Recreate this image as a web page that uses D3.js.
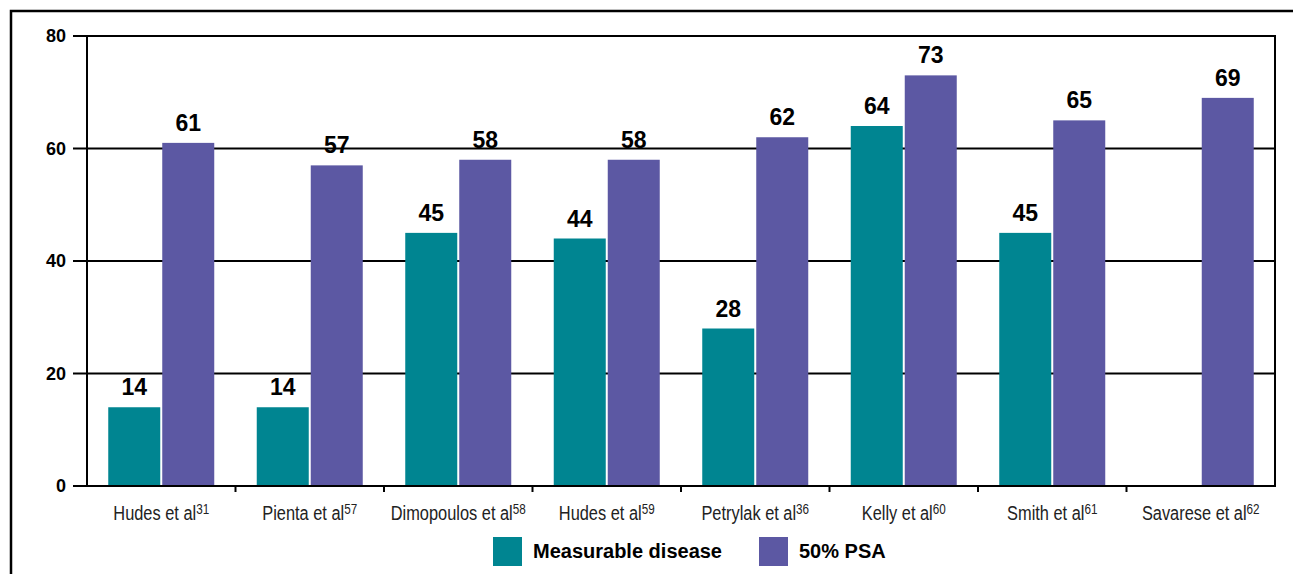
<!DOCTYPE html>
<html>
<head>
<meta charset="utf-8">
<script src="https://cdn.jsdelivr.net/npm/d3@7"></script>
<style>
  body { margin: 0; background: #fff; }
  svg { display: block; }
  .ytick { font-family: "Liberation Sans", Arial, sans-serif; font-weight: bold; font-size: 18px; }
  .xlab { font-family: "Liberation Sans", Arial, sans-serif; font-size: 21px; fill: #222; }
  .val { font-family: "Liberation Sans", Arial, sans-serif; font-weight: bold; font-size: 23px; }
  .legend { font-family: "Liberation Sans", Arial, sans-serif; font-weight: bold; font-size: 20px; }
</style>
</head>
<body>
<svg id="chart"></svg>
<script>
const width = 1293;
const height = 574;

const studies = ['Hudes et al', 'Pienta et al', 'Dimopoulos et al', 'Hudes et al', 'Petrylak et al', 'Kelly et al', 'Smith et al', 'Savarese et al'];
const refs = ['31', '57', '58', '59', '36', '60', '61', '62'];
const measurable = [14, 14, 45, 44, 28, 64, 45, null];
const psa = [61, 57, 58, 58, 62, 73, 65, 69];
const yTicks = [0, 20, 40, 60, 80];
const seriesNames = ['Measurable disease', '50% PSA'];
const colors = ['#008591', '#5c58a3'];

const margin = { top: 36, right: 18, bottom: 88, left: 87 };
const plotW = width - margin.left - margin.right;
const plotH = height - margin.top - margin.bottom;

const svg = d3.select('#chart')
  .attr('width', width)
  .attr('height', height);

// outer frame (top and left edges visible)
svg.append('path')
  .attr('d', `M11,${height} L11,11 L${width},11`)
  .attr('fill', 'none')
  .attr('stroke', '#000')
  .attr('stroke-width', 2.5);

const g = svg.append('g').attr('transform', `translate(${margin.left},${margin.top})`);

const x = d3.scaleBand()
  .domain(d3.range(studies.length))
  .range([0, plotW])
  .padding(0);

const y = d3.scaleLinear()
  .domain([0, 80])
  .range([plotH, 0]);

// gridlines + y ticks
g.selectAll('.grid')
  .data(yTicks)
  .enter()
  .append('line')
  .attr('x1', -14)
  .attr('x2', plotW)
  .attr('y1', d => y(d))
  .attr('y2', d => y(d))
  .attr('stroke', '#000')
  .attr('stroke-width', 2);

g.selectAll('.ytick')
  .data(yTicks)
  .enter()
  .append('text')
  .attr('class', 'ytick')
  .attr('x', -21)
  .attr('y', d => y(d))
  .attr('dy', '0.36em')
  .attr('text-anchor', 'end')
  .text(d => d);

// bars
const barW = 52;
const gap = 2;
const offset = (x.bandwidth() - (barW * 2 + gap)) / 2;

const groups = g.selectAll('.grp')
  .data(studies)
  .enter()
  .append('g')
  .attr('transform', (d, i) => `translate(${x(i)},0)`);

[measurable, psa].forEach((series, s) => {
  groups.each(function (d, i) {
    const v = series[i];
    if (v == null) return;
    const bx = offset + s * (barW + gap);
    d3.select(this).append('rect')
      .attr('x', bx)
      .attr('y', y(v))
      .attr('width', barW)
      .attr('height', plotH - y(v))
      .attr('fill', colors[s]);
    d3.select(this).append('text')
      .attr('class', 'val')
      .attr('x', bx + barW / 2)
      .attr('y', y(v) - 12)
      .attr('text-anchor', 'middle')
      .text(v);
  });
});

// plot frame
g.append('rect')
  .attr('x', 0)
  .attr('y', 0)
  .attr('width', plotW)
  .attr('height', plotH)
  .attr('fill', 'none')
  .attr('stroke', '#000')
  .attr('stroke-width', 2);

// x category ticks
g.selectAll('.xtick')
  .data(d3.range(1, studies.length))
  .enter()
  .append('line')
  .attr('x1', d => x(d))
  .attr('x2', d => x(d))
  .attr('y1', plotH)
  .attr('y2', plotH + 6)
  .attr('stroke', '#000')
  .attr('stroke-width', 2);

// x labels with superscript refs, squeezed to mimic a narrow face
const xl = g.selectAll('.xlab')
  .data(studies)
  .enter()
  .append('text')
  .attr('class', 'xlab')
  .attr('transform', (d, i) => `translate(${x(i) + x.bandwidth() / 2},${plotH + 34}) scale(0.78,1)`)
  .attr('text-anchor', 'middle');

xl.append('tspan').text(d => d);
xl.append('tspan')
  .attr('dy', -6)
  .attr('font-size', 15)
  .text((d, i) => refs[i]);

// legend
const legendX = [493, 759];
const legend = svg.selectAll('.leg')
  .data(seriesNames)
  .enter()
  .append('g')
  .attr('transform', (d, i) => `translate(${legendX[i]},537)`);

legend.append('rect')
  .attr('width', 29)
  .attr('height', 29)
  .attr('fill', (d, i) => colors[i]);

legend.append('text')
  .attr('class', 'legend')
  .attr('x', 40)
  .attr('y', 21)
  .text(d => d);
</script>
</body>
</html>
